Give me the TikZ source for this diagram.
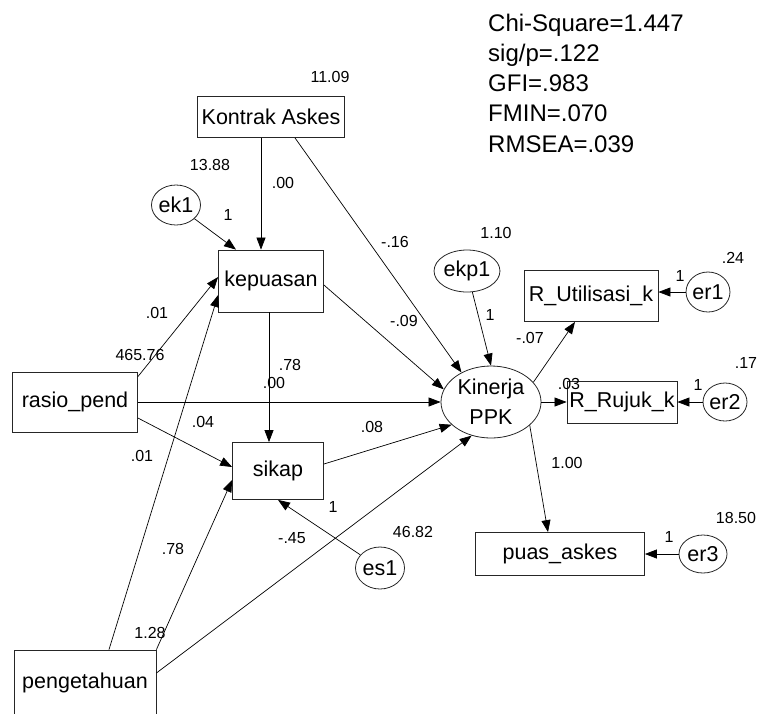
\documentclass[tikz,border=0pt]{standalone}
\usepackage{fontspec}
\setsansfont{Liberation Sans}
\usetikzlibrary{shapes.geometric, arrows.meta}

\begin{document}
\begin{tikzpicture}[
    x=1pt, y=-1pt,
    font=\sffamily\fontsize{21.5}{30}\selectfont,
    box/.style={rectangle, draw=black!85, line width=0.8pt, inner sep=0pt, align=center},
    lat/.style={ellipse, draw=black!85, line width=0.8pt, inner sep=0pt, align=center},
    err/.style={ellipse, draw=black!85, line width=0.8pt, inner sep=0pt},
    arr/.style={-{Triangle[length=12pt, width=9pt]}, line width=0.7pt},
    lbl/.style={font=\sffamily\fontsize{16}{19}\selectfont, inner sep=0pt},
    fitlbl/.style={font=\sffamily\fontsize{24}{30}\selectfont, inner sep=0pt, anchor=base west},
]
\useasboundingbox (0,0) rectangle (762,713);

% --- observed variables ---
\node[box, minimum width=147pt, minimum height=41pt] (ka)  at (271,117) {Kontrak Askes};
\node[box, minimum width=105pt, minimum height=62pt] (kep) at (271,281) {kepuasan};
\node[box, minimum width=125pt, minimum height=60pt] (ras) at ( 75,402) {rasio\_pend};
\node[box, minimum width=91pt,  minimum height=57pt] (sik) at (278,471) {sikap};
\node[box, minimum width=142pt, minimum height=66pt] (pen) at ( 85,683) {pengetahuan};
\node[box, minimum width=134pt, minimum height=51pt] (ru)  at (591,296) {R\_Utilisasi\_k};
\node[box, minimum width=110pt, minimum height=42pt] (rr)  at (622,402) {R\_Rujuk\_k};
\node[box, minimum width=169pt, minimum height=43pt] (pa)  at (560,554) {puas\_askes};

% --- latent variable ---
\node[lat, minimum width=100pt, minimum height=72pt] (kin) at (491,402) {Kinerja\\PPK};

% --- error terms ---
\node[err, minimum width=40pt, minimum height=40pt] (ek1)  at (176,205) {ek1};
\node[err, minimum width=43pt, minimum height=42pt] (es1)  at (380,568) {es1};
\node[err, minimum width=46pt, minimum height=42pt] (ekp1) at (467,271) {ekp1};
\node[err, minimum width=42pt, minimum height=40pt] (er1)  at (708,292) {er1};
\node[err, minimum width=44pt, minimum height=38pt] (er2)  at (725,402) {er2};
\node[err, minimum width=48pt, minimum height=38pt] (er3)  at (703,554) {er3};

% --- paths into kepuasan ---
\draw[arr] ([xshift=-10pt]ka.south) -- ([xshift=-10pt]kep.north);
\draw[arr] (ek1) -- ([xshift=-35pt]kep.north);
\draw[arr] ([yshift=-5pt]ras.north east) -- ([yshift=4pt]kep.west);
\draw[arr] ([xshift=24pt]pen.north) -- ([yshift=-14pt]kep.west);

% --- paths into sikap ---
\draw[arr] ([xshift=-2pt]kep.south) -- ([xshift=-9pt]sik.north);
\draw[arr] ([yshift=-16pt]ras.east) -- ([yshift=4pt]sik.west);
\draw[arr] (pen.north east) -- ([yshift=-9pt]sik.west);
\draw[arr] (es1) -- (sik.south);

% --- paths into Kinerja PPK ---
\draw[arr] ([xshift=24pt]ka.south) -- (kin.135);
\draw[arr] ([yshift=-4pt]kep.east) -- (kin.165);
\draw[arr] (ras.east) -- (kin.west);
\draw[arr] ([yshift=7pt]sik.east) -- (kin.210);
\draw[arr] ([yshift=10pt]pen.east) -- (kin.240);
\draw[arr] (ekp1) -- (kin.north);

% --- indicators ---
\draw[arr] (kin.25) -- ([xshift=-16pt]ru.south);
\draw[arr] (kin.east) -- (rr.west);
\draw[arr] (kin.-31) -- ([xshift=-12pt]pa.north);
\draw[arr] (er1) -- (er1 -| ru.east);
\draw[arr] (er2) -- (rr.east);
\draw[arr] (er3) -- (pa.east);

% --- estimates ---
\node[lbl] (v-ka)   at (330, 77) {11.09};
\node[lbl] (v-ek1)  at (210,165) {13.88};
\node[lbl] (w-kak)  at (283,183) {.00};
\node[lbl] (w-ek1)  at (228,215) {1};
\node[lbl] (w-kap)  at (395,242) {-.16};
\node[lbl] (v-ekp)  at (496,233) {1.10};
\node[lbl] (w-ekp)  at (490,315) {1};
\node[lbl] (w-ru)   at (530,338) {-.07};
\node[lbl] (v-er1)  at (733,258) {.24};
\node[lbl] (w-er1)  at (680,276) {1};
\node[lbl] (w-kpp)  at (404,321) {-.09};
\node[lbl] (w-rk)   at (157,313) {.01};
\node[lbl] (v-ras)  at (140,355) {465.76};
\node[lbl] (w-ks)   at (290,365) {.78};
\node[lbl] (w-rp)   at (274,383) {.00};
\node[lbl] (w-rr)   at (569,384) {.03};
\node[lbl] (v-er2)  at (746,363) {.17};
\node[lbl] (w-er2)  at (698,385) {1};
\node[lbl] (w-rs)   at (203,422) {.04};
\node[lbl] (w-sp)   at (372,427) {.08};
\node[lbl] (w-pk)   at (142,456) {.01};
\node[lbl] (w-pa)   at (567,463) {1.00};
\node[lbl] (w-es1)  at (333,507) {1};
\node[lbl] (v-es1)  at (413,532) {46.82};
\node[lbl] (w-pp)   at (292,538) {-.45};
\node[lbl] (w-er3)  at (669,537) {1};
\node[lbl] (v-er3)  at (736,518) {18.50};
\node[lbl] (w-ps)   at (173,549) {.78};
\node[lbl] (v-pen)  at (150,633) {1.28};

% --- fit statistics ---
\node[fitlbl] (fit1) at (488, 31) {Chi-Square=1.447};
\node[fitlbl] (fit2) at (488, 61) {sig/p=.122};
\node[fitlbl] (fit3) at (488, 91) {GFI=.983};
\node[fitlbl] (fit4) at (488,121) {FMIN=.070};
\node[fitlbl] (fit5) at (488,152) {RMSEA=.039};
\end{tikzpicture}
\end{document}
